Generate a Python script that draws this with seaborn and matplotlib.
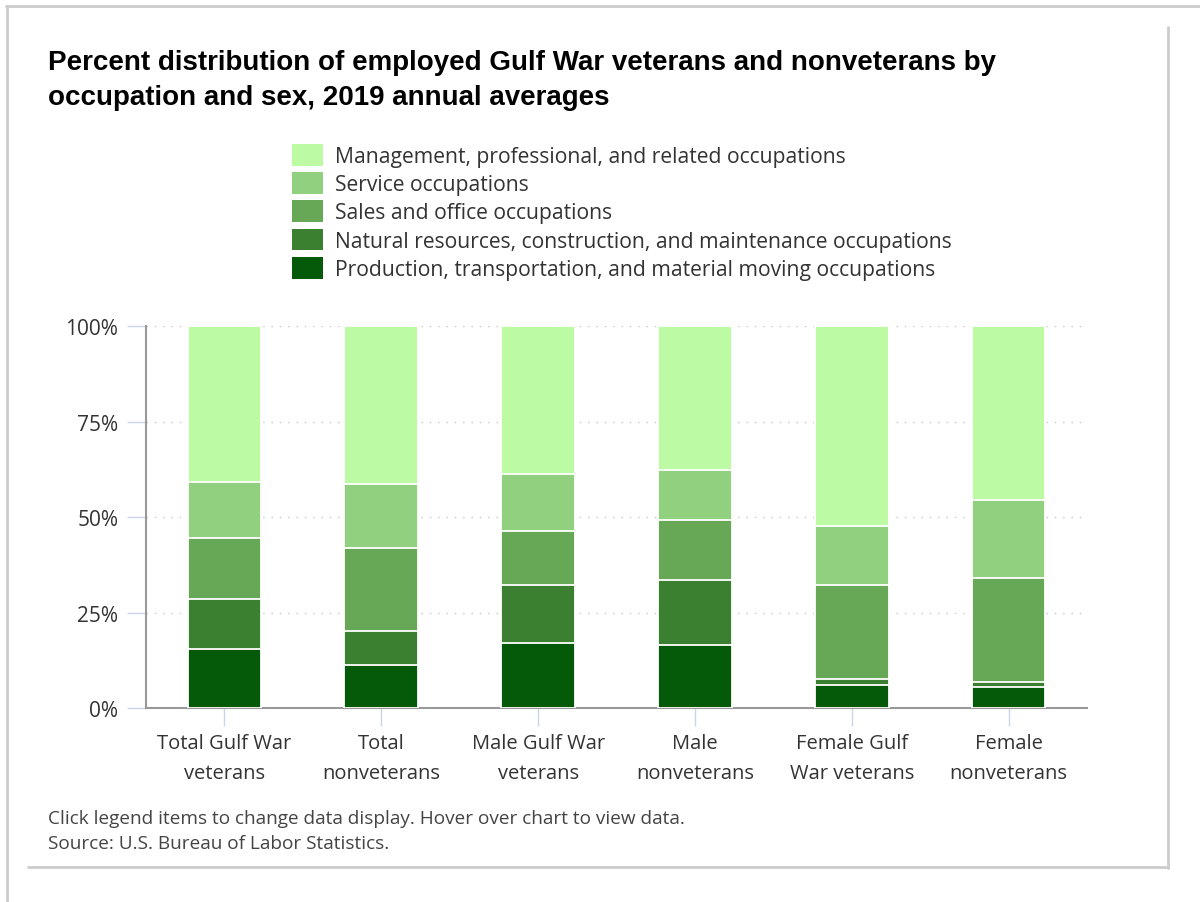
import matplotlib
matplotlib.use("Agg")
import matplotlib.pyplot as plt
from matplotlib.lines import Line2D
from matplotlib.patches import Patch
import numpy as np
import seaborn as sns

# Categories (x axis)
groups = [
    "Total Gulf War\nveterans",
    "Total\nnonveterans",
    "Male Gulf War\nveterans",
    "Male\nnonveterans",
    "Female Gulf\nWar veterans",
    "Female\nnonveterans",
]

# Occupation groups, legend order (top of stack first)
occupations = [
    "Management, professional, and related occupations",
    "Service occupations",
    "Sales and office occupations",
    "Natural resources, construction, and maintenance occupations",
    "Production, transportation, and material moving occupations",
]

# Percent of employed persons in each occupation group
management = [40.9, 41.4, 38.8, 37.7, 52.4, 45.5]
service = [14.6, 16.8, 14.7, 13.1, 15.3, 20.5]
sales_office = [15.9, 21.5, 14.2, 15.7, 24.7, 27.3]
natural_resources = [13.1, 9.0, 15.3, 17.0, 1.6, 1.1]
production = [15.5, 11.3, 17.0, 16.5, 6.0, 5.6]

colors = ["#bdfaa4", "#91d07f", "#67a857", "#3b7f31", "#045a08"]

y_ticks = [0, 25, 50, 75, 100]
y_tick_labels = ["0%", "25%", "50%", "75%", "100%"]

title_lines = [
    "Percent distribution of employed Gulf War veterans and nonveterans by",
    "occupation and sex, 2019 annual averages",
]
notes = [
    "Click legend items to change data display. Hover over chart to view data.",
    "Source: U.S. Bureau of Labor Statistics.",
]

W, H = 1200, 903
sns.set_theme(style="white")
plt.rcParams["font.family"] = ["Open Sans", "DejaVu Sans"]

fig = plt.figure(figsize=(W / 100, H / 100), dpi=100)
ax = fig.add_axes([146 / W, 1 - 709 / H, (1087 - 146) / W, (709 - 327.3) / H])

# Stack from the bottom: production first, management on top
series_bottom_up = [production, natural_resources, sales_office, service, management]
colors_bottom_up = colors[::-1]
cumulative = np.cumsum(np.array(series_bottom_up), axis=0)

# Draw the tallest cumulative bar first so each lower segment sits over it
for level in range(len(series_bottom_up) - 1, -1, -1):
    sns.barplot(
        x=groups,
        y=cumulative[level],
        color=colors_bottom_up[level],
        saturation=1,
        width=0.47,
        edgecolor="white",
        linewidth=1.3,
        ax=ax,
        zorder=3,
    )

ax.set_ylim(0, 100)
ax.set_xlim(-0.5, len(groups) - 0.5)
ax.set_yticks(y_ticks)
ax.set_yticklabels(y_tick_labels)
ax.set_xlabel("")
ax.set_ylabel("")

ax.yaxis.grid(True, color="#c8c8c8", linestyle=(0, (1, 5)), linewidth=1.0, zorder=0)
ax.xaxis.grid(False)
ax.set_axisbelow(True)

for side in ["top", "right"]:
    ax.spines[side].set_visible(False)
for side in ["left", "bottom"]:
    ax.spines[side].set_color("#999999")
    ax.spines[side].set_linewidth(1.5)

ax.tick_params(axis="y", direction="out", length=14, width=1, color="#ccd6eb",
               labelsize=15, labelcolor="#333333", pad=6, left=True)
ax.tick_params(axis="x", direction="out", length=13, width=1, color="#ccd6eb",
               labelsize=14.5, labelcolor="#333333", pad=5, bottom=True)
for lbl in ax.get_xticklabels():
    lbl.set_linespacing(1.65)

# Title
title_font = ["Liberation Sans", "DejaVu Sans"]
fig.text(48 / W, 1 - 70 / H, title_lines[0], fontsize=20, fontweight="bold",
         family=title_font, color="#000000", va="baseline")
fig.text(48 / W, 1 - 105 / H, title_lines[1], fontsize=20, fontweight="bold",
         family=title_font, color="#000000", va="baseline")

# Legend
handles = [Patch(facecolor=c, edgecolor="none", label=n) for c, n in zip(colors, occupations)]
fig.legend(
    handles=handles,
    loc="upper left",
    bbox_to_anchor=(292 / W, 1 - 145 / H),
    frameon=False,
    fontsize=15.2,
    handlelength=1.47,
    handleheight=1.2,
    labelspacing=0.25,
    handletextpad=0.55,
    borderpad=0,
    borderaxespad=0,
    labelcolor="#333333",
)

# Footnotes
fig.text(48 / W, 1 - 819 / H, notes[0], fontsize=13.7, color="#444444", va="center")
fig.text(48 / W, 1 - 844 / H, notes[1], fontsize=13.7, color="#444444", va="center")

# Page frame
frame = "#cccccc"
fig.add_artist(Line2D([6 / W, 1.0], [1 - 7 / H, 1 - 7 / H], color=frame, lw=2, transform=fig.transFigure))
fig.add_artist(Line2D([7 / W, 7 / W], [1 - 7 / H, 0.0], color=frame, lw=2, transform=fig.transFigure))
fig.add_artist(Line2D([1168 / W, 1168 / W], [1 - 28 / H, 1 - 869 / H], color=frame, lw=2, transform=fig.transFigure))
fig.add_artist(Line2D([28 / W, 1168 / W], [1 - 868 / H, 1 - 868 / H], color=frame, lw=2, transform=fig.transFigure))

fig.savefig("out.png", dpi=100, facecolor="white")
